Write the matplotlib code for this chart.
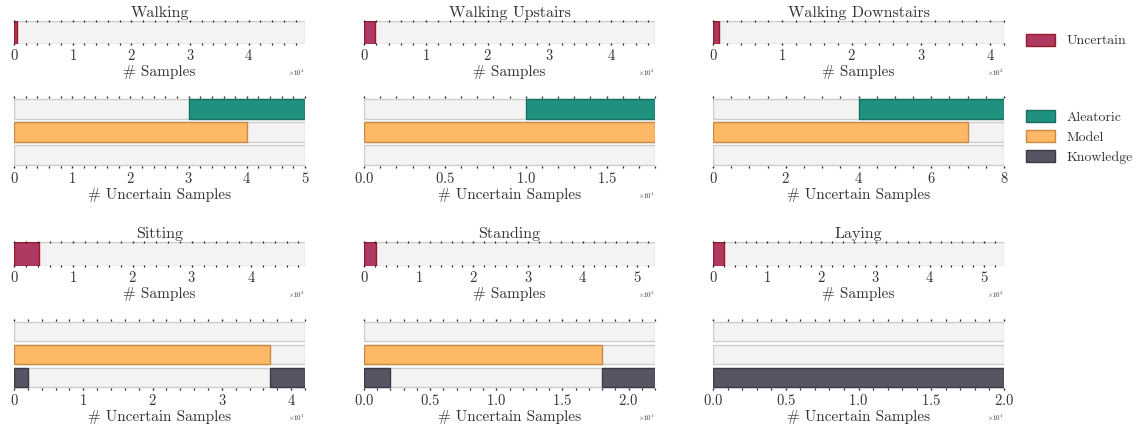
import matplotlib
matplotlib.use("Agg")
import matplotlib.pyplot as plt
from matplotlib.ticker import AutoMinorLocator, ScalarFormatter
from matplotlib.patches import Patch

plt.rcParams['font.family'] = 'serif'
plt.rcParams['font.serif'] = ['cmr10']
plt.rcParams['mathtext.fontset'] = 'cm'
plt.rcParams['axes.formatter.use_mathtext'] = True
plt.rcParams['axes.unicode_minus'] = False

activities = ["Walking", "Walking Upstairs", "Walking Downstairs",
              "Sitting", "Standing", "Laying"]
total_samples = [496, 471, 420, 491, 532, 537]
uncertain = [5, 18, 8, 42, 22, 20]
aleatoric = [2, 8, 4, 0, 0, 0]
model = [4, 18, 7, 37, 18, 0]
knowledge_head = [0, 0, 0, 2, 2, 20]
knowledge_tail = [0, 0, 0, 5, 4, 0]

C_UNC = '#ae3a62'
C_UNC_E = '#9a1828'
C_ALE = '#21917f'
C_ALE_E = '#17705f'
C_MOD = '#fdb966'
C_MOD_E = '#c98a45'
C_KNO = '#575563'
C_KNO_E = '#3b3a44'
BG = '#f3f3f3'
BG_E = '#cccccc'
TXT = '#333333'

W, H = 1137, 425
fig = plt.figure(figsize=(W / 100, H / 100), dpi=100)


def px_axes(x0, y0, x1, y1):
    return fig.add_axes([x0 / W, 1 - y1 / H, (x1 - x0) / W, (y1 - y0) / H])


def style(ax):
    for s in ax.spines.values():
        s.set_visible(False)
    ax.set_yticks([])
    ax.xaxis.set_minor_locator(AutoMinorLocator())
    ax.tick_params(axis='x', which='major', top=True, bottom=True, direction='inout',
                   length=2.0, width=1.0, color='#222222', labelsize=10.5,
                   labelcolor=TXT, pad=2)
    ax.tick_params(axis='x', which='minor', top=True, bottom=True, direction='inout',
                   length=1.2, width=0.9, color='#222222')
    fmt = ScalarFormatter(useMathText=True)
    fmt.set_powerlimits((-1, 1))
    ax.xaxis.set_major_formatter(fmt)
    ax.xaxis.get_offset_text().set_fontsize(5)
    ax.xaxis.get_offset_text().set_color(TXT)


cols_x = [(14, 305), (364, 655), (713, 1004)]
rows_y = [((21, 44), (97, 167)), ((242, 266), (320, 389))]

last_top = None
last_bot = None
for i, name in enumerate(activities):
    r, c = divmod(i, 3)
    x0, x1 = cols_x[c]
    (ty0, ty1), (by0, by1) = rows_y[r]

    axt = px_axes(x0, ty0, x1, ty1)
    axt.barh([0], [total_samples[i]], height=1.0, color=BG, edgecolor=BG_E, linewidth=1)
    axt.barh([0], [uncertain[i]], height=1.0, color=C_UNC, edgecolor=C_UNC_E, linewidth=1)
    axt.set_xlim(0, total_samples[i])
    axt.set_ylim(-0.5, 0.5)
    style(axt)
    axt.set_title(name, fontsize=11.5, color=TXT, pad=3)
    axt.set_xlabel('# Samples', fontsize=11, color=TXT, labelpad=1)

    axb = px_axes(x0, by0, x1, by1)
    tot = uncertain[i]
    for y in range(3):
        axb.barh([y], [tot], height=0.86, color=BG, edgecolor=BG_E, linewidth=1)
    if aleatoric[i] > 0:
        axb.barh([0], [aleatoric[i]], left=[tot - aleatoric[i]], height=0.86,
                 color=C_ALE, edgecolor=C_ALE_E, linewidth=1)
    if model[i] > 0:
        axb.barh([1], [model[i]], height=0.86, color=C_MOD, edgecolor=C_MOD_E, linewidth=1)
    if knowledge_head[i] > 0:
        axb.barh([2], [knowledge_head[i]], height=0.86, color=C_KNO,
                 edgecolor=C_KNO_E, linewidth=1)
    if knowledge_tail[i] > 0:
        axb.barh([2], [knowledge_tail[i]], left=[tot - knowledge_tail[i]], height=0.86,
                 color=C_KNO, edgecolor=C_KNO_E, linewidth=1)
    axb.set_xlim(0, tot)
    axb.set_ylim(2.5, -0.5)
    style(axb)
    axb.set_xlabel('# Uncertain Samples', fontsize=11, color=TXT, labelpad=1)

    if i == 2:
        last_top, last_bot = axt, axb

leg_kw = dict(loc='center left', frameon=False, fontsize=10, handlelength=2.1,
              handleheight=0.95, labelcolor=TXT, borderaxespad=0, borderpad=0,
              handletextpad=0.8)
h1 = [Patch(facecolor=C_UNC, edgecolor=C_UNC_E, label='Uncertain')]
last_top.legend(handles=h1, bbox_to_anchor=(1.075, 0.15), **leg_kw)
h2 = [Patch(facecolor=C_ALE, edgecolor=C_ALE_E, label='Aleatoric'),
      Patch(facecolor=C_MOD, edgecolor=C_MOD_E, label='Model'),
      Patch(facecolor=C_KNO, edgecolor=C_KNO_E, label='Knowledge')]
last_bot.legend(handles=h2, bbox_to_anchor=(1.075, 0.43), labelspacing=0.45, **leg_kw)

fig.savefig('out.png', dpi=100)
